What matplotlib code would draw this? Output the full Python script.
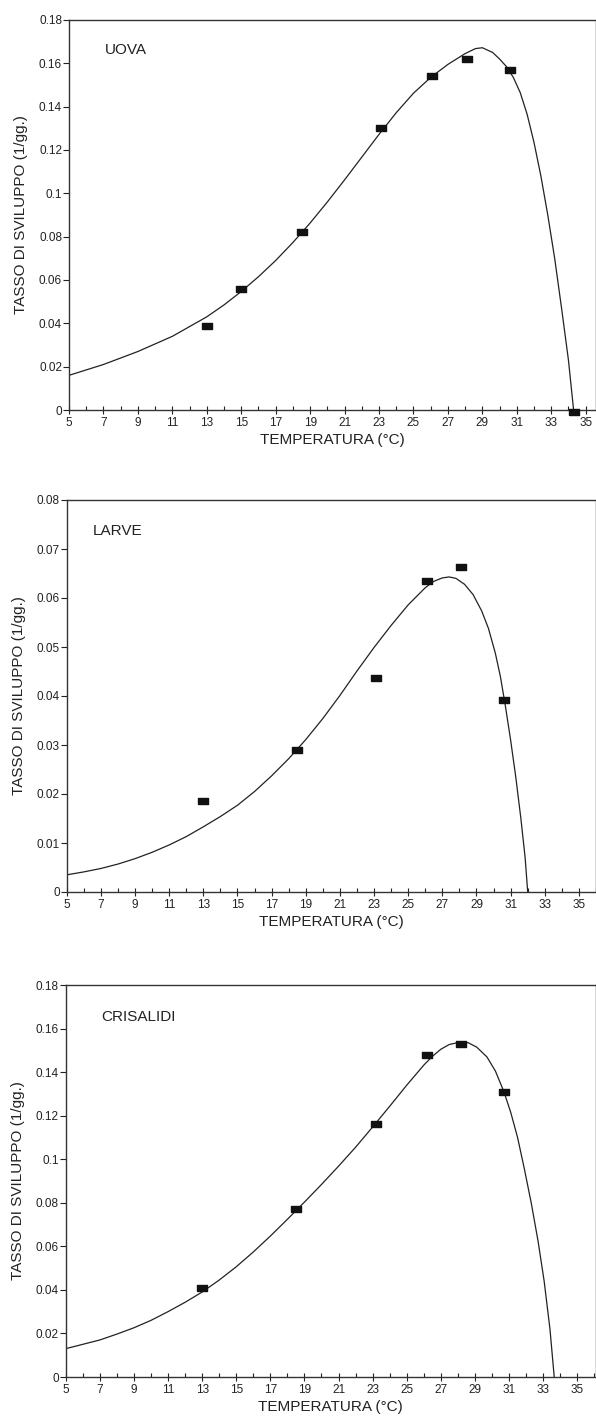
import numpy as np
import matplotlib
matplotlib.use('Agg')
import matplotlib.pyplot as plt
from matplotlib.ticker import MultipleLocator, FuncFormatter

plt.rcParams['font.family'] = ['Liberation Sans', 'DejaVu Sans']

# ---- observed development rates (squares) ----
uova_t = [13, 15, 18.5, 23.1, 26.1, 28.1, 30.6, 34.3]
uova_r = [0.039, 0.056, 0.082, 0.130, 0.154, 0.162, 0.157, -0.001]

larve_t = [13, 18.5, 23.1, 26.1, 28.1, 30.6]
larve_r = [0.0185, 0.029, 0.0436, 0.0634, 0.0663, 0.0392]

cris_t = [13, 18.5, 23.2, 26.2, 28.2, 30.7]
cris_r = [0.041, 0.077, 0.116, 0.148, 0.153, 0.131]

# ---- fitted curves ----
uova_curve_t = [5, 6, 7, 8, 9, 10, 11, 12, 13, 14, 15, 16, 17, 18, 19, 20, 21,
                22, 23, 24, 25, 26, 27, 28, 28.6, 29.0, 29.6, 30.0, 30.4, 30.8,
                31.2, 31.6, 32.0, 32.4, 32.8, 33.2, 33.6, 34.0, 34.3]
uova_curve_r = [0.016, 0.0185, 0.021, 0.024, 0.027, 0.0305, 0.034, 0.0385,
                0.043, 0.0485, 0.0547, 0.0615, 0.069, 0.0773, 0.0863, 0.096,
                0.1062, 0.1167, 0.1272, 0.1372, 0.1462, 0.1535, 0.1595, 0.1645,
                0.1668, 0.1672, 0.165, 0.162, 0.1585, 0.1535, 0.1465, 0.1365,
                0.1235, 0.108, 0.090, 0.070, 0.047, 0.023, 0.0]

larve_curve_t = [5, 6, 7, 8, 9, 10, 11, 12, 13, 14, 15, 16, 17, 18, 19, 20, 21,
                 22, 23, 24, 25, 26, 26.5, 27, 27.4, 27.8, 28.3, 28.8, 29.3,
                 29.7, 30.1, 30.4, 30.7, 31.0, 31.3, 31.6, 31.85, 32.0]
larve_curve_r = [0.0035, 0.0041, 0.0048, 0.0057, 0.0068, 0.0081, 0.0096, 0.0113,
                 0.0133, 0.0154, 0.0177, 0.0205, 0.0237, 0.0272, 0.0311, 0.0354,
                 0.0401, 0.0451, 0.0499, 0.0544, 0.0586, 0.0621, 0.0634, 0.0641,
                 0.0643, 0.0640, 0.0628, 0.0607, 0.0574, 0.0538, 0.0488, 0.0440,
                 0.0378, 0.0310, 0.0235, 0.0150, 0.0070, 0.0]

cris_curve_t = [5, 6, 7, 8, 9, 10, 11, 12, 13, 14, 15, 16, 17, 18, 19, 20, 21,
                22, 23, 24, 25, 26, 26.5, 27, 27.5, 28.15, 28.6, 29.1, 29.7,
                30.2, 30.7, 31.1, 31.5, 31.9, 32.3, 32.7, 33.06, 33.4, 33.65]
cris_curve_r = [0.013, 0.015, 0.017, 0.0197, 0.0226, 0.026, 0.030, 0.0343,
                0.039, 0.0445, 0.0506, 0.0574, 0.0647, 0.0724, 0.0803, 0.0884,
                0.0968, 0.1055, 0.1148, 0.1243, 0.134, 0.1432, 0.1472, 0.1505,
                0.1527, 0.1538, 0.1535, 0.1515, 0.147, 0.1405, 0.131, 0.1215,
                0.110, 0.0955, 0.080, 0.0625, 0.044, 0.022, 0.0]

panels = [
    # label, obs t, obs r, curve t, curve r, ymax, ystep, xmax, axes box (px), label pos
    ('UOVA', uova_t, uova_r, uova_curve_t, uova_curve_r, 0.18, 0.02, 35.6,
     (69, 20, 596, 410), (0.068, 0.923)),
    ('LARVE', larve_t, larve_r, larve_curve_t, larve_curve_r, 0.08, 0.01, 36.0,
     (66.7, 500, 596, 892), (0.05, 0.921)),
    ('CRISALIDI', cris_t, cris_r, cris_curve_t, cris_curve_r, 0.18, 0.02, 36.1,
     (65.7, 985, 596, 1377), (0.067, 0.919)),
]

W, H = 596, 1423
fig = plt.figure(figsize=(W / 100, H / 100), dpi=100)

# flat rectangle marker, wider than tall
rect = [(-1, -0.65), (1, -0.65), (1, 0.65), (-1, 0.65), (-1, -0.65)]
ink = '#222222'

for name, ot, orr, ct, cr, ymax, ystep, xmax, (x0, y0, x1, y1), lab in panels:
    ax = fig.add_axes([x0 / W, 1 - y1 / H, (x1 - x0) / W, (y1 - y0) / H])
    ax.plot(ct, cr, color=ink, linewidth=0.9, zorder=2)
    ax.plot(ot, orr, linestyle='none', marker=rect, markersize=7.5,
            color='#111111', zorder=3, clip_on=False)
    ax.set_xlim(5, xmax)
    ax.set_ylim(0, ymax)

    ax.set_xticks(np.arange(5, 36, 2))
    ax.xaxis.set_minor_locator(MultipleLocator(1))
    ax.yaxis.set_major_locator(MultipleLocator(ystep))
    ax.yaxis.set_major_formatter(FuncFormatter(lambda v, p: f'{v:g}'))

    ax.tick_params(axis='x', which='major', direction='inout', length=6,
                   width=0.8, labelsize=8.5, pad=2, colors=ink)
    ax.tick_params(axis='x', which='minor', direction='in', length=3,
                   width=0.8, colors=ink)
    ax.tick_params(axis='y', which='major', direction='out', length=4,
                   width=0.8, labelsize=8.5, pad=1, colors=ink)

    for side in ['left', 'bottom', 'top', 'right']:
        ax.spines[side].set_linewidth(1.0)
        ax.spines[side].set_color('#333333')

    ax.set_xlabel('TEMPERATURA (°C)', fontsize=11, labelpad=3, color=ink)
    ax.set_ylabel('TASSO DI SVILUPPO (1/gg.)', fontsize=11, labelpad=8,
                  color=ink)
    ax.text(lab[0], lab[1], name, transform=ax.transAxes, fontsize=11,
            va='center', ha='left', color=ink)

fig.savefig('out.png', dpi=100)
